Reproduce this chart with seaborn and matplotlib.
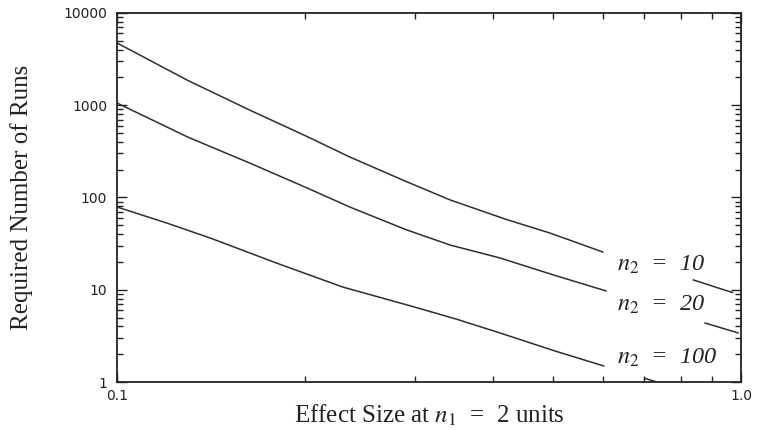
import numpy as np
import pandas as pd
import matplotlib
matplotlib.use("Agg")
import matplotlib.pyplot as plt
import seaborn as sns
from matplotlib.ticker import FixedLocator, NullFormatter

# ==========================
# Data
# ==========================

series_labels = [r"$n_2$  =  10", r"$n_2$  =  20", r"$n_2$  =  100"]

# main part of each curve (left of the labels)
effect_10 = [0.100, 0.130, 0.163, 0.200, 0.236, 0.290, 0.342, 0.420, 0.494, 0.601]
runs_10 = [4730, 1850, 889, 470, 275, 150, 94, 58, 41.2, 25.6]

effect_20 = [0.100, 0.130, 0.163, 0.200, 0.236, 0.290, 0.342, 0.411, 0.500, 0.608]
runs_20 = [1057, 450, 237, 130, 78.9, 45, 30.5, 22.1, 14.5, 9.7]

effect_100 = [0.100, 0.120, 0.141, 0.180, 0.230, 0.295, 0.350, 0.411, 0.500, 0.603]
runs_100 = [78.9, 53, 36.4, 19.5, 10.7, 6.7, 4.8, 3.4, 2.2, 1.49]

# short pieces of each curve right of the labels
tail_effect_10 = [0.838, 0.97]
tail_runs_10 = [12.8, 9.3]
tail_effect_20 = [0.875, 0.99]
tail_runs_20 = [4.37, 3.4]
tail_effect_100 = [0.70, 0.733]
tail_runs_100 = [1.1, 1.0]

rows = []
for name, xs, ys in [
    ("n2 = 10", effect_10, runs_10),
    ("n2 = 20", effect_20, runs_20),
    ("n2 = 100", effect_100, runs_100),
]:
    for x, y in zip(xs, ys):
        rows.append({"effect": x, "runs": y, "curve": name, "piece": name + " main"})
for name, xs, ys in [
    ("n2 = 10", tail_effect_10, tail_runs_10),
    ("n2 = 20", tail_effect_20, tail_runs_20),
    ("n2 = 100", tail_effect_100, tail_runs_100),
]:
    for x, y in zip(xs, ys):
        rows.append({"effect": x, "runs": y, "curve": name, "piece": name + " tail"})
df = pd.DataFrame(rows)

# label anchors (left edge, vertical centre)
label_x = 0.633
label_y = [18.5, 6.8, 1.82]

# ==========================
# Plot
# ==========================

sns.set_style("ticks")
plt.rcParams["font.family"] = ["Liberation Serif", "DejaVu Serif"]
plt.rcParams["mathtext.fontset"] = "stix"

fig = plt.figure(figsize=(7.57, 4.30), dpi=100)
ax = fig.add_axes([0.1546, 0.1116, 0.8243, 0.8582])

sns.lineplot(
    data=df, x="effect", y="runs", units="piece", estimator=None,
    color="#2e2e2e", linewidth=1.1, ax=ax, legend=False
)

ax.set_xscale("log")
ax.set_yscale("log")
ax.set_xlim(0.1, 1.0)
ax.set_ylim(1, 10000)

ax.xaxis.set_major_locator(FixedLocator([0.1, 1.0]))
ax.set_xticklabels(["0.1", "1.0"])
ax.xaxis.set_minor_locator(FixedLocator([0.2, 0.3, 0.4, 0.5, 0.6, 0.7, 0.8, 0.9]))
ax.xaxis.set_minor_formatter(NullFormatter())

ax.yaxis.set_major_locator(FixedLocator([1, 10, 100, 1000, 10000]))
ax.set_yticklabels(["1", "10", "100", "1000", "10000"])
ax.yaxis.set_minor_locator(FixedLocator(
    [m * 10 ** e for e in range(0, 4) for m in range(2, 10)]))
ax.yaxis.set_minor_formatter(NullFormatter())

ax.tick_params(which="both", direction="in", top=True, right=True,
               color="#222222", width=1.0)
ax.tick_params(which="major", length=7)
ax.tick_params(which="minor", length=4)
ax.tick_params(axis="y", which="major", pad=7)
ax.tick_params(axis="x", which="major", pad=5)
for lab in ax.get_xticklabels() + ax.get_yticklabels():
    lab.set_family("DejaVu Sans")
    lab.set_fontsize(10)
    lab.set_color("#222222")

for sp in ax.spines.values():
    sp.set_visible(True)
    sp.set_linewidth(1.3)
    sp.set_color("#222222")

for text, y in zip(series_labels, label_y):
    ax.text(label_x, y, text, ha="left", va="center", fontsize=17.5,
            style="italic", color="#222222")

ax.set_xlabel(r"Effect Size at $n_1$  =  2 units", fontsize=18,
              color="#222222")
ax.set_ylabel("Required Number of Runs", fontsize=18, color="#222222")
ax.xaxis.set_label_coords(0.5, -0.057)
ax.yaxis.set_label_coords(-0.135, 0.5)

fig.savefig("out.png", dpi=100, facecolor="white")
